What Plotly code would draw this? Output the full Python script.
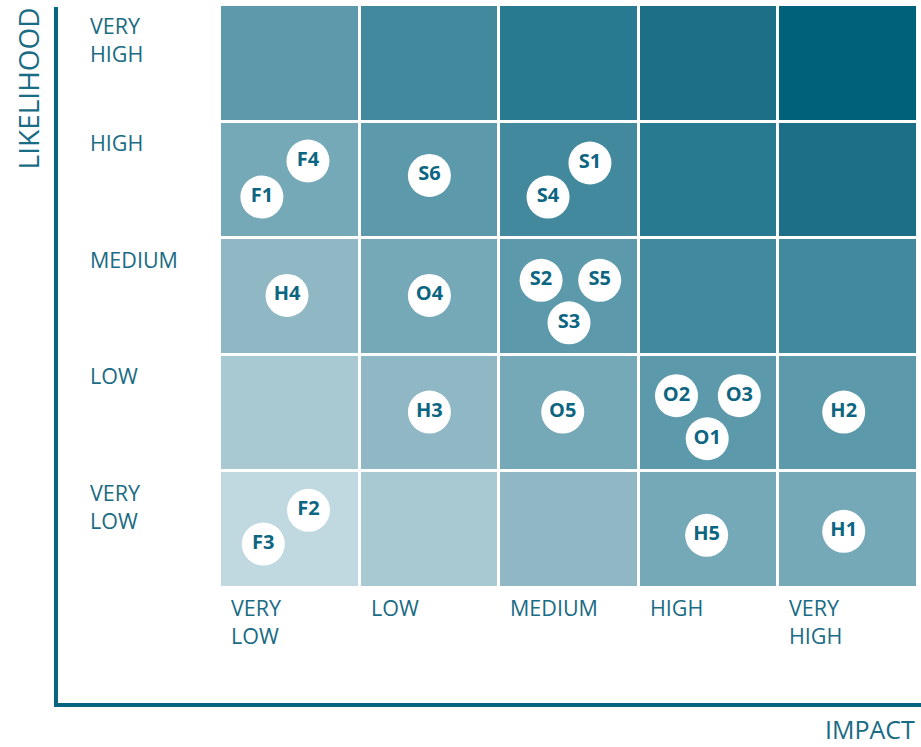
import plotly.graph_objects as go

# ---- data ----
impact_labels = ["VERY<br>LOW", "LOW", "MEDIUM", "HIGH", "VERY<br>HIGH"]
likelihood_labels = ["VERY<br>LOW", "LOW", "MEDIUM", "HIGH", "VERY<br>HIGH"]

# severity level of each cell (rows: likelihood VERY LOW -> VERY HIGH, cols: impact)
severity = [
    [0, 1, 2, 3, 3],
    [1, 2, 3, 4, 4],
    [2, 3, 4, 5, 5],
    [3, 4, 5, 6, 7],
    [4, 5, 6, 7, 8],
]
severity_colors = ["#c0d9e0", "#a8c8d2", "#8fb7c4", "#76a9b8", "#5c99aa",
                   "#43899e", "#287a90", "#1c6f87", "#00617b"]

risk_ids = ["F4", "F1", "S6", "S1", "S4", "H4", "O4", "S2", "S5", "S3",
            "H3", "O5", "O2", "O3", "O1", "H2", "F2", "F3", "H5", "H1"]
risk_impact = [0.13, -0.20, 1.00, 2.15, 1.85, -0.02, 1.00, 1.80, 2.22, 2.00,
               1.00, 1.955, 2.77, 3.22, 2.99, 3.968, 0.134, -0.19, 2.986, 3.968]
risk_likelihood = [3.162, 2.853, 3.038, 3.145, 2.853, 2.009, 2.009, 2.139, 2.139, 1.774,
                   1.009, 1.009, 1.149, 1.149, 0.78, 1.009, 0.166, -0.123, -0.048, -0.014]

# ---- styles ----
TEXT = "#1a6b84"
AXIS = "#05647f"
FONT = "Open Sans"

n = len(severity_colors)
colorscale = [[i / (n - 1), c] for i, c in enumerate(severity_colors)]

fig = go.Figure()
fig.add_trace(go.Heatmap(
    z=severity, x=list(range(5)), y=list(range(5)),
    colorscale=colorscale, zmin=0, zmax=n - 1, showscale=False,
    xgap=3, ygap=3, hoverinfo="skip",
))
fig.add_trace(go.Scatter(
    x=risk_impact, y=risk_likelihood, mode="markers+text",
    text=risk_ids, textposition="middle center",
    marker=dict(size=43, color="white", line=dict(width=0)),
    textfont=dict(family=FONT, size=20, color="#0d6681", weight=700),
    hoverinfo="text", showlegend=False, cliponaxis=False,
))

annotations = []
for i, lab in enumerate(likelihood_labels):
    annotations.append(dict(
        xref="paper", yref="y", x=-0.189, y=i + 0.462,
        xanchor="left", yanchor="top", text=lab, showarrow=False, align="left",
        font=dict(family=FONT, size=21.5, color=TEXT),
    ))
for i, lab in enumerate(impact_labels):
    annotations.append(dict(
        xref="x", yref="paper", x=i - 0.435, y=-0.006,
        xanchor="left", yanchor="top", text=lab, showarrow=False, align="left",
        font=dict(family=FONT, size=21.5, color=TEXT),
    ))
annotations.append(dict(
    xref="paper", yref="paper", x=-0.275, y=0.857, text="LIKELIHOOD",
    textangle=-90, showarrow=False, xanchor="center", yanchor="middle",
    font=dict(family=FONT, size=28, color=TEXT),
))
annotations.append(dict(
    xref="paper", yref="paper", x=0.9986, y=-0.2419, text="IMPACT",
    showarrow=False, xanchor="right", yanchor="middle",
    font=dict(family=FONT, size=25, color=TEXT),
))

shapes = [
    dict(type="line", xref="paper", yref="paper", x0=-0.235, x1=-0.235,
         y0=0.9966, y1=-0.2041, line=dict(color=AXIS, width=4)),
    dict(type="line", xref="paper", yref="paper", x0=-0.2378, x1=1.0043,
         y0=-0.2007, y1=-0.2007, line=dict(color=AXIS, width=4)),
]

fig.update_layout(
    width=921, height=747,
    margin=dict(l=220, r=3, t=5, b=159),
    paper_bgcolor="white", plot_bgcolor="white",
    xaxis=dict(range=[-0.5, 4.5], showgrid=False, zeroline=False,
               showticklabels=False, ticks="", fixedrange=True),
    yaxis=dict(range=[-0.5, 4.5], showgrid=False, zeroline=False,
               showticklabels=False, ticks="", fixedrange=True),
    annotations=annotations, shapes=shapes, showlegend=False,
)

fig.write_html(
    "out.html",
    config={"displayModeBar": False},
    post_script="document.body.style.margin='0px';document.body.style.overflow='hidden';",
)
